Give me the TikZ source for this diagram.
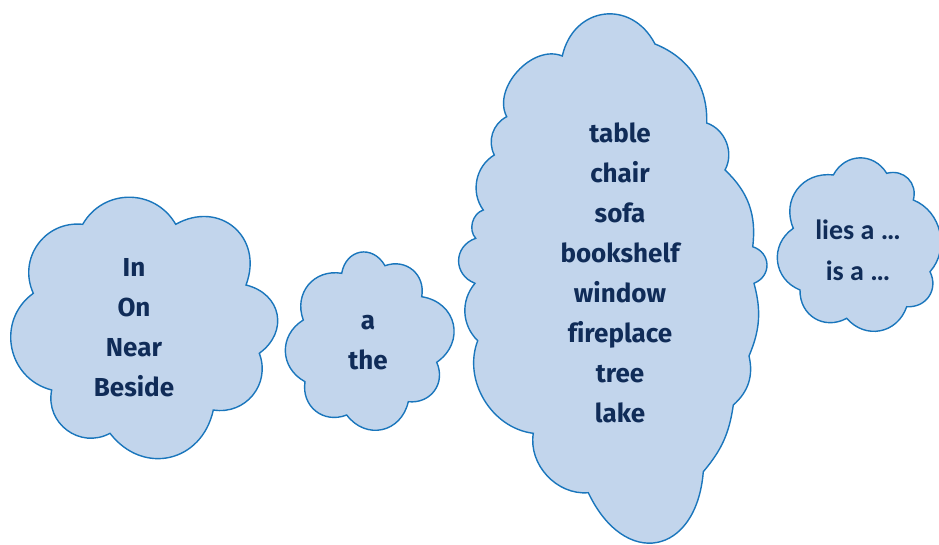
\documentclass[tikz,border=0pt]{standalone}
\usepackage{fontspec}
\setmainfont{Fira Sans}[Ligatures=NoCommon]
\newfontfamily\carl{Carlito}
\definecolor{cloudfill}{RGB}{194,213,236}
\definecolor{clouddraw}{RGB}{26,118,188}
\definecolor{cloudtext}{RGB}{16,44,88}
\tikzset{
  cloudline/.style={draw=clouddraw, fill=cloudfill, line width=1.4pt, line join=miter},
  pf/.style 2 args={bend left=#1, looseness=#2},
  words/.style={text=cloudtext, align=center, font=\bfseries\fontsize{26}{40}\selectfont},
}
\begin{document}
\begin{tikzpicture}[x=1pt,y=-1pt]
\useasboundingbox (0,0) rectangle (939,545);
% cloud 1
\path[cloudline] (82.7,224.3) to[pf={60}{1.15}] (175.7,224.3) to[pf={70}{1.4}] (246,285)
  to[pf={65}{1.35}] (259.3,353.3) to[pf={60}{1.15}] (213.3,410) to[pf={65}{1.3}] (110,433.3)
  to[pf={65}{1.2}] (51.7,390) to[pf={65}{1.2}] (33.3,293.3) to[pf={60}{1.15}] cycle;
% cloud 2
\path[cloudline] (341.7,273.3) to[pf={70}{1.45}] (385,265.7) to[pf={60}{1.2}] (421.7,296.7)
  to[pf={68}{1.35}] (436.7,362.3) to[pf={60}{1.2}] (408.3,401.7) to[pf={65}{1.3}] (346.7,415)
  to[pf={60}{1.2}] (305,381.7) to[pf={60}{1.2}] (303.3,320) to[pf={60}{1.2}] cycle;
% cloud 3
\path[cloudline] (562.3,56) to[pf={70}{1.4}] (655,44) to[pf={35}{1}] (706.7,123)
  to[pf={50}{1}] (725,170) to[pf={27}{1}] (752.7,246.7) to[pf={70}{1.35}] (754,283.3)
  to[pf={19}{1}] (749,356) to[pf={31}{1}] (733.3,405) to[pf={16}{1}] (703.3,471.7)
  to[pf={75}{1.85}] (588.3,492.7) to[pf={52}{1}] (533.3,433.3) to[pf={52}{1}] (477.7,340.7)
  to[pf={43}{1}] (475,283.3) to[pf={70}{1.35}] (475.7,238.3) to[pf={58}{1}] (483.3,210)
  to[pf={48}{1}] (494.3,155) to[pf={45}{1}] (506.7,116.7) to[pf={70}{1}] cycle;
% cloud 4
\path[cloudline] (833.3,175) to[pf={60}{1.2}] (886.7,173.3) to[pf={60}{1.2}] (913.3,200)
  to[pf={55}{1.05}] (930,271.7) to[pf={60}{1.2}] (906.7,306.7) to[pf={60}{1.2}] (846.7,318.3)
  to[pf={60}{1.2}] (800,290) to[pf={62}{1.2}] (793.3,228.3) to[pf={60}{1.2}] cycle;
\node[words] (t1) at (134,328) {In\\On\\Near\\Beside};
\node[words] (t2) at (368,343) {a\\the};
\node[words] (t3) at (620,273) {table\\chair\\sofa\\bookshelf\\window\\fireplace\\tree\\lake};
\node[words, font=\carl\bfseries\fontsize{28}{41}\selectfont] (t4) at (858,250) {lies a …\\is a …};
\end{tikzpicture}
\end{document}
